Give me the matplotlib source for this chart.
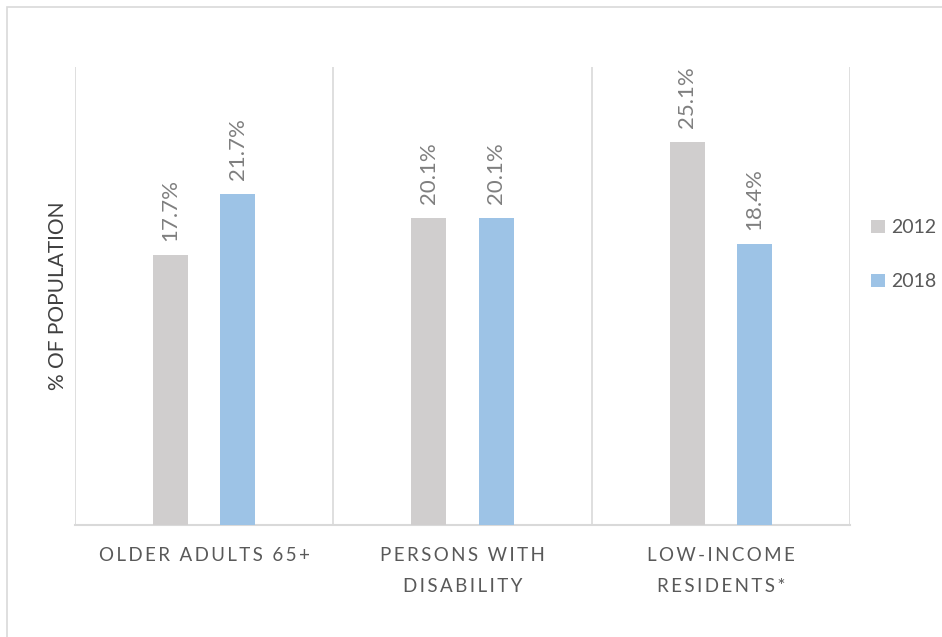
import matplotlib.pyplot as plt
import numpy as np
from matplotlib.patches import Rectangle

#: Data
categories = ["OLDER ADULTS 65+", "PERSONS WITH\nDISABILITY", "LOW-INCOME\nRESIDENTS*"]
years = ["2012", "2018"]
vals_2012 = [17.7, 20.1, 25.1]
vals_2018 = [21.7, 20.1, 18.4]

col_2012 = "#d0cece"
col_2018 = "#9dc3e6"
grid_col = "#d9d9d9"


def spaced(s):
    # mimic the wide letter spacing of the original tick labels
    lines = []
    for line in s.split("\n"):
        words = ["\u2009".join(w) for w in line.split(" ")]
        lines.append("  ".join(words))
    return "\n".join(lines)


plt.rcParams['font.family'] = ['Lato', 'DejaVu Sans']

fig = plt.figure(figsize=(9.42, 6.37), dpi=100)
ax = fig.add_axes([75 / 942, 112 / 637, 775 / 942, 458 / 637])

#: outer chart border
fig.patches.append(Rectangle((7 / 942, -0.1), 1.2, (630 / 637) + 0.1, transform=fig.transFigure,
                             fill=False, edgecolor="#d9d9d9", linewidth=1.2))

x = np.arange(len(categories))
w = 0.136
off = 0.13
b1 = ax.bar(x - off, vals_2012, w, color=col_2012, label=years[0], zorder=3)
b2 = ax.bar(x + off, vals_2018, w, color=col_2018, label=years[1], zorder=3)

for bars, vals in [(b1, vals_2012), (b2, vals_2018)]:
    for r, v in zip(bars, vals):
        ax.annotate(f"{v}%", (r.get_x() + r.get_width() / 2, r.get_height()),
                    xytext=(0, 10), textcoords="offset points", rotation=90,
                    ha="center", va="bottom", fontsize=16, color="#7f7f7f")

ax.set_xlim(-0.5, len(categories) - 0.5)
ax.set_ylim(0, 30)
ax.set_yticks([])

#: vertical separators between categories
for gx in np.arange(-0.5, len(categories), 1.0):
    ax.axvline(gx, color=grid_col, linewidth=1.2, zorder=1)

for s in ["top", "left", "right"]:
    ax.spines[s].set_visible(False)
ax.spines["bottom"].set_color(grid_col)
ax.spines["bottom"].set_linewidth(1.5)

ax.set_xticks(x)
ax.set_xticklabels([spaced(c) for c in categories], fontsize=13.5, color="#595959",
                   linespacing=1.95)
ax.tick_params(axis="x", length=0, pad=16)

ax.set_ylabel("% OF POPULATION", fontsize=15, color="#404040", labelpad=5)

ax.legend(loc="center left", bbox_to_anchor=(1.005, 0.59), frameon=False,
          fontsize=14, labelcolor="#595959", handlelength=0.7, handleheight=0.7,
          handletextpad=0.3, labelspacing=1.9)

plt.savefig("out.png", dpi=100)
